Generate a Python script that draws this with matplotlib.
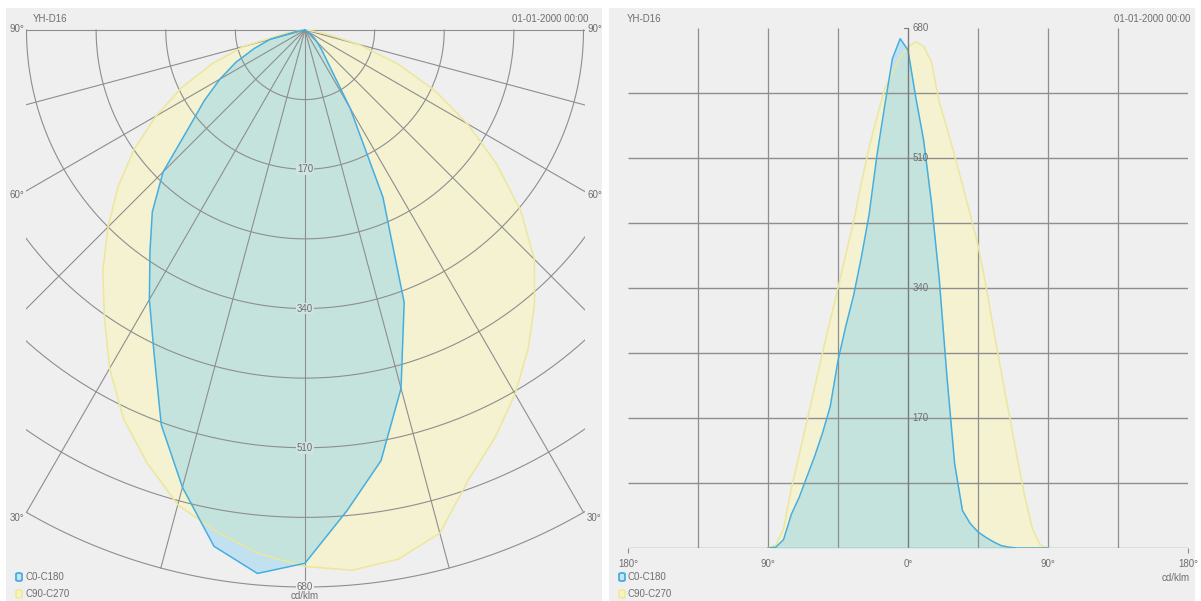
import numpy as np
import matplotlib.pyplot as plt
from matplotlib.patches import Rectangle, FancyBboxPatch

# gamma angles (deg) and intensities (cd/klm)
gamma = [-90, -85, -80, -75, -70, -65, -60, -55, -50, -45, -40, -35, -30,
         -25, -20, -15, -10, -5, 0, 5, 10, 15, 20, 25, 30, 35, 40, 45, 50,
         55, 60, 65, 70, 75, 80, 85, 90]
c0_c180 = [0, 1, 11, 44, 66, 93, 120, 150, 185, 245, 290, 330, 380,
           436, 513, 578, 640, 666, 651, 589, 534, 453, 354, 225, 110, 49, 32, 21, 14,
           8, 3, 1, 0, 0, 0, 0, 0]
c90_c270 = [0, 4, 25, 78, 121, 166, 210, 255, 298, 340, 384, 427, 477,
            524, 563, 600, 622, 642, 655, 662, 656, 636, 584, 549, 513, 475, 436, 396, 344,
            286, 229, 175, 120, 68, 25, 4, 0]

series_names = ['C0-C180', 'C90-C270']
title = 'YH-D16'
stamp = '01-01-2000 00:00'
unit = 'cd/klm'
r_ticks = [170, 340, 510, 680]
r_grid = [85, 170, 255, 340, 425, 510, 595, 680]
polar_spokes = [-90, -75, -60, -45, -30, -15, 0, 15, 30, 45, 60, 75, 90]
x_ticks = [-180, -90, 0, 90, 180]
x_grid = [-135, -90, -45, 45, 90, 135]

W, H = 1201, 601
bg = '#efeff0'
grid_c = '#8e8e8e'
txt_c = '#6e6e6e'
blue_line = '#45aee0'
blue_fill = (0.47, 0.80, 0.95, 0.38)
yel_line = '#ebe79c'
yel_fill = (0.98, 0.96, 0.70, 0.5)

plt.rcParams['font.family'] = ['Liberation Sans', 'DejaVu Sans']

fig = plt.figure(figsize=(W / 100, H / 100), dpi=100)


def fx(x):
    return x / W


def fy(y):
    return 1 - y / H


# panel backgrounds
fig.patches.append(Rectangle((fx(6), 0), (602 - 6) / W, fy(8), transform=fig.transFigure,
                             facecolor=bg, edgecolor='none', zorder=-10))
fig.patches.append(Rectangle((fx(609), 0), (1195 - 609) / W, fy(8), transform=fig.transFigure,
                             facecolor=bg, edgecolor='none', zorder=-10))

# ---------------- polar chart ----------------
k = 557 / 680.0  # px per cd/klm
left_px, right_px, top_px = 25.5, 584.5, 25
axp = fig.add_axes([fx(left_px), 0, (right_px - left_px) / W, (H - top_px) / H])
axp.set_xlim((left_px - 305) / k, (right_px - 305) / k)
axp.set_ylim(-(H - 30) / k, (30 - top_px) / k)
axp.axis('off')

g = np.radians(gamma)
for vals, fc in [(np.array(c90_c270), yel_fill), (np.array(c0_c180), blue_fill)]:
    axp.fill(vals * np.sin(g), -vals * np.cos(g), color=fc, lw=0, zorder=1)
for vals, lc, z in [(np.array(c90_c270), yel_line, 3), (np.array(c0_c180), blue_line, 4)]:
    axp.plot(vals * np.sin(g), -vals * np.cos(g), color=lc, lw=1.1, zorder=z)

t = np.radians(np.linspace(-90, 90, 361))
for r in r_grid:
    axp.plot(r * np.sin(t), -r * np.cos(t), color=grid_c, lw=0.8, zorder=2)
for a in polar_spokes:
    ar = np.radians(a)
    axp.plot([0, 680 * np.sin(ar)], [0, -680 * np.cos(ar)], color=grid_c, lw=0.8, zorder=2)

for r in r_ticks:
    fcol = bg if r == 680 else '#cfe3e3'
    axp.text(0, -r, str(r), ha='center', va='center', fontsize=7, color=txt_c, zorder=5,
             bbox=dict(boxstyle='square,pad=0.1', fc=fcol, ec='none'))
fig.text(fx(305), fy(596), unit, ha='center', va='center', fontsize=7, color=txt_c)

for lab, y in [('90°', 29), ('60°', 195), ('30°', 518)]:
    fig.text(fx(24), fy(y), lab, ha='right', va='center', fontsize=7, color=txt_c)
    fig.text(fx(587), fy(y), lab, ha='left', va='center', fontsize=7, color=txt_c)

fig.text(fx(33), fy(19), title, ha='left', va='center', fontsize=7, color=txt_c)
fig.text(fx(588), fy(19), stamp, ha='right', va='center', fontsize=7, color=txt_c)

# ---------------- cartesian chart ----------------
axc = fig.add_axes([fx(628), fy(548), 560 / W, 520 / H])
axc.set_xlim(-180, 180)
axc.set_ylim(0, 680)
axc.axis('off')

axc.vlines(x_grid, 0, 680, color=grid_c, lw=0.9, zorder=2)
axc.hlines(r_grid[:-1], -180, 180, color=grid_c, lw=1.0, zorder=2)
axc.vlines([0], 0, 680, color='#7a7a7a', lw=1.0, zorder=5)
axc.hlines([0], -180, 180, color='#8a9aa0', lw=1.0, zorder=5)
axc.plot([-2.5, 0], [680, 680], color='#7a7a7a', lw=0.8, clip_on=False, zorder=5)
axc.vlines([-180, 180], -6, 0, color=grid_c, lw=0.8, clip_on=False)

axc.fill_between(gamma, c90_c270, color=yel_fill, lw=0, zorder=1)
axc.fill_between(gamma, c0_c180, color=blue_fill, lw=0, zorder=1)
axc.plot(gamma, c90_c270, color=yel_line, lw=1.1, zorder=3)
axc.plot(gamma, c0_c180, color=blue_line, lw=1.1, zorder=4)

for r in r_ticks:
    axc.text(3, r, str(r), ha='left', va='center', fontsize=7, color=txt_c, zorder=6)
for xt in x_ticks:
    axc.text(xt, -15, f'{abs(xt)}°', ha='center', va='top', fontsize=7, color=txt_c, clip_on=False)

fig.text(fx(627), fy(19), title, ha='left', va='center', fontsize=7, color=txt_c)
fig.text(fx(1190), fy(19), stamp, ha='right', va='center', fontsize=7, color=txt_c)
fig.text(fx(1190), fy(578), unit, ha='right', va='center', fontsize=7, color=txt_c)

# legends
for x0 in [16, 619]:
    for (name, fc, ec), y in zip([(series_names[0], '#c6e4f4', blue_line),
                                  (series_names[1], '#f7f3c0', '#f0eaa0')], [577, 594]):
        fig.patches.append(FancyBboxPatch((fx(x0), fy(y + 4)), 6 / W, 8 / H,
                                          boxstyle='round,pad=0,rounding_size=0.002',
                                          transform=fig.transFigure, facecolor=fc, edgecolor=ec, lw=1.3))
        fig.text(fx(x0 + 9), fy(y), name, ha='left', va='center', fontsize=7, color=txt_c)

fig.savefig('out.png', dpi=100)
